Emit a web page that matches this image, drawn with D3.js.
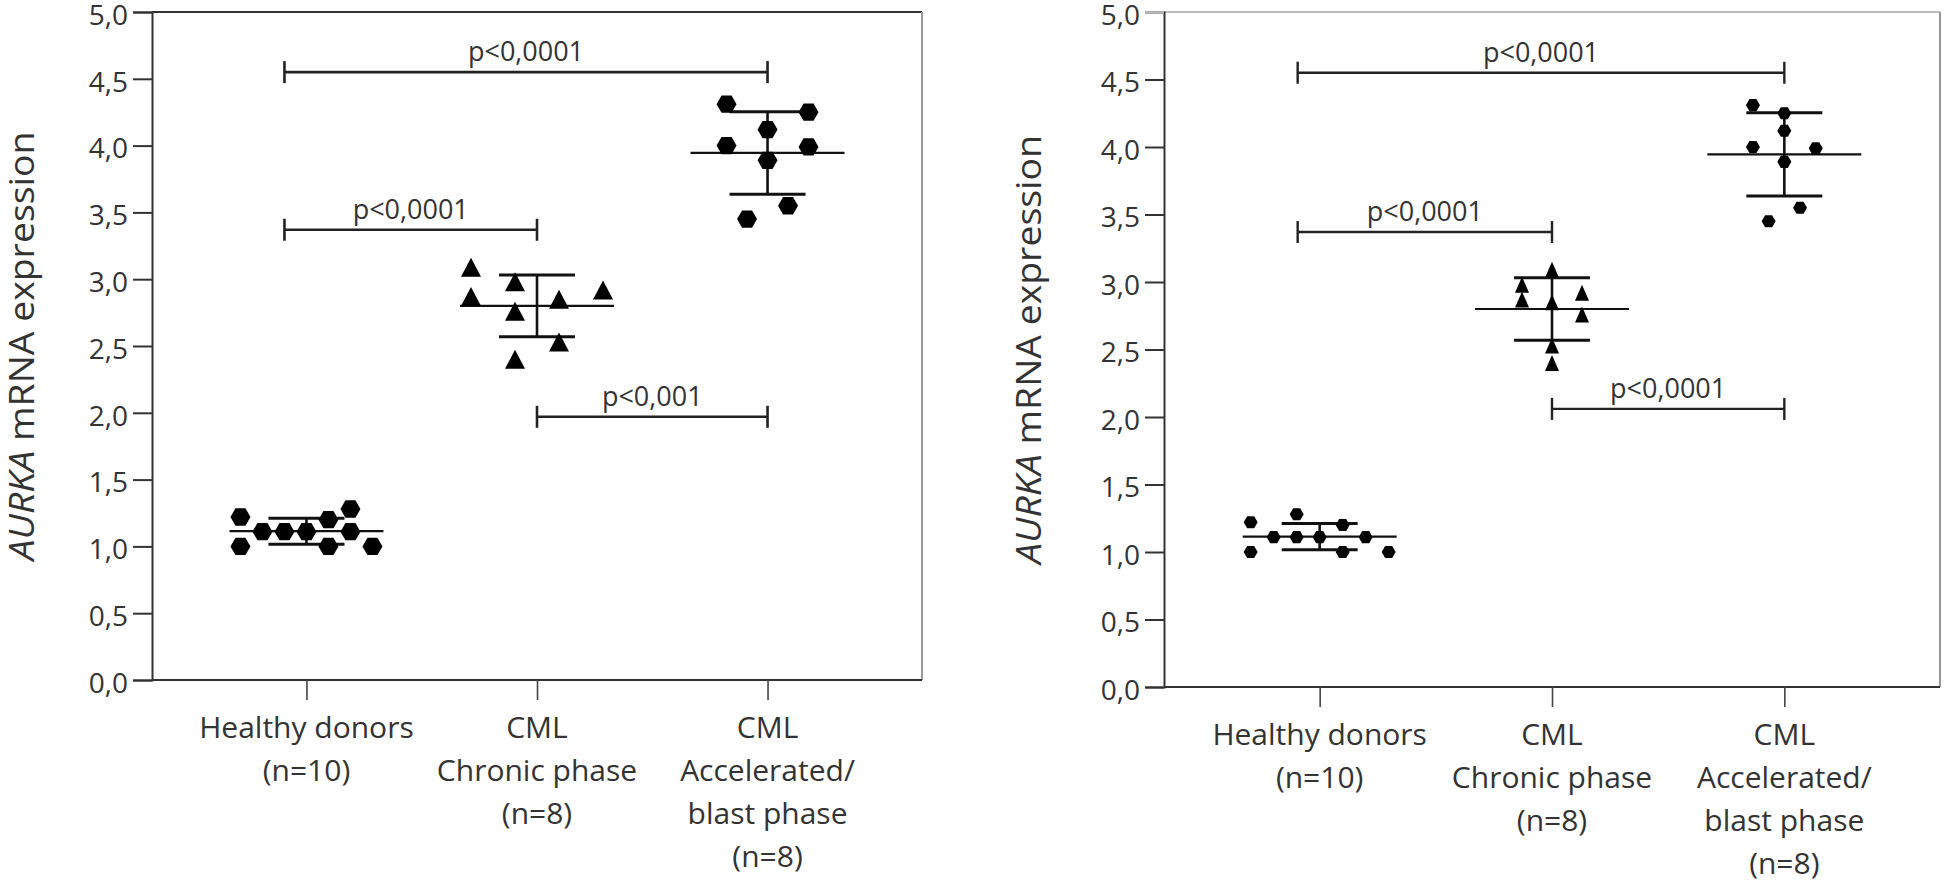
<!DOCTYPE html>
<html><head><meta charset="utf-8">
<script src="https://cdn.jsdelivr.net/npm/d3@7"></script>
<style>body{margin:0;background:#fff} svg{display:block}</style>
</head><body>
<svg id="chart" width="1944" height="886"></svg>
<script>
// ---------------- data ----------------
const categories = ["Healthy donors", "CML Chronic phase", "CML Accelerated/blast phase"];
const categoryLines = [["Healthy donors", "(n=10)"], ["CML", "Chronic phase", "(n=8)"], ["CML", "Accelerated/", "blast phase", "(n=8)"]];
const yTickValues = [0, 0.5, 1, 1.5, 2, 2.5, 3, 3.5, 4, 4.5, 5];
const yTickLabels = ["0,0", "0,5", "1,0", "1,5", "2,0", "2,5", "3,0", "3,5", "4,0", "4,5", "5,0"];
const healthyValues = [1.22, 1.00, 1.11, 1.11, 1.11, 1.20, 1.00, 1.28, 1.11, 1.00];
const chronicValues = [3.09, 2.87, 2.98, 2.76, 2.40, 2.85, 2.53, 2.92];
const blastValues = [4.31, 4.25, 4.12, 4.00, 3.99, 3.89, 3.55, 3.45];
// scatter column index of each point (left panel A / right panel B)
const healthySlotsA = [-3, -3, -2, -1, 0, 1, 1, 2, 2, 3];
const chronicSlotsA = [-3, -3, -1, -1, -1, 1, 1, 3];
const blastSlotsA = [-2, 2, 0, -2, 2, 0, 1, -1];
const healthySlotsB = [-3, -3, -2, -1, 0, 1, 1, -1, 2, 3];
const chronicSlotsB = [0, -1, -1, 1, 0, 0, 0, 1];
const blastSlotsB = [-2, 0, 0, -2, 2, 0, 1, -1];
// significance comparisons
const sigPairs = [[0, 2], [0, 1], [1, 2]];
const sigLevelsA = [4.55, 3.37, 1.97];
const sigLabelsA = ["p<0,0001", "p<0,0001", "p<0,001"];
const sigLevelsB = [4.55, 3.37, 2.06];
const sigLabelsB = ["p<0,0001", "p<0,0001", "p<0,0001"];
const yTitleItalic = "AURKA";
const yTitleRest = " mRNA expression";

// ---------------- layout ----------------
const FONT = "'Open Sans', 'DejaVu Sans', sans-serif";
const TEXT = "#333";
const panels = [
  { x0: 152, x1: 922, yTop: 12, yBottom: 680, titleX: 34, labelY0: 738,
    hexR: 10, triW: 20, triH: 19, spacing: [22, 22, 20.5],
    slots: [healthySlotsA, chronicSlotsA, blastSlotsA],
    sigLevels: sigLevelsA, sigLabels: sigLabelsA, topColor: "#333", sigW: 2.6 },
  { x0: 1164, x1: 1940, yTop: 12, yBottom: 687, titleX: 1041, labelY0: 745,
    hexR: 7, triW: 14, triH: 16, spacing: [23, 30, 15.7],
    slots: [healthySlotsB, chronicSlotsB, blastSlotsB],
    sigLevels: sigLevelsB, sigLabels: sigLabelsB, topColor: "#bbb", sigW: 2.4 }
];
const groupValues = [healthyValues, chronicValues, blastValues];
const shapes = ["hex", "tri", "hex"];

const svg = d3.select("#chart");

function hexPath(r) {
  const pts = d3.range(6).map(i => [r * Math.cos(i * Math.PI / 3), r * Math.sin(i * Math.PI / 3)]);
  return "M" + pts.map(p => p.join(",")).join("L") + "Z";
}
function triPath(w, h) {
  return `M0,${-h / 2}L${w / 2},${h / 2}L${-w / 2},${h / 2}Z`;
}

panels.forEach(P => {
  const g = svg.append("g");
  const x = d3.scalePoint().domain(categories).range([P.x0, P.x1]).padding(0.67);
  const y = d3.scaleLinear().domain([0, 5]).range([P.yBottom, P.yTop]);

  // frame: top and right borders
  g.append("line").attr("x1", P.x0).attr("x2", P.x1).attr("y1", y(5)).attr("y2", y(5))
    .attr("stroke", P.topColor).attr("stroke-width", 2);
  g.append("line").attr("x1", P.x1).attr("x2", P.x1).attr("y1", y(5)).attr("y2", y(0))
    .attr("stroke", "#999").attr("stroke-width", 2);

  // y axis
  const yAxis = d3.axisLeft(y).tickValues(yTickValues).tickSize(19).tickPadding(5)
    .tickFormat((d, i) => yTickLabels[i]);
  const ya = g.append("g").attr("transform", `translate(${P.x0},0)`).call(yAxis);
  ya.select(".domain").attr("stroke", "#333").attr("stroke-width", 2);
  ya.selectAll(".tick line").attr("stroke", "#333").attr("stroke-width", 2);
  ya.selectAll(".tick").filter(d => d === 5).select("line").attr("stroke", P.topColor);
  ya.selectAll(".tick text").attr("fill", TEXT).attr("dy", "0.44em")
    .style("font-family", FONT).style("font-size", "28px");

  // x axis
  const xAxis = d3.axisBottom(x).tickSize(20).tickFormat("");
  const xa = g.append("g").attr("transform", `translate(0,${P.yBottom})`).call(xAxis);
  xa.select(".domain").attr("d", `M${P.x0},0H${P.x1}`).attr("stroke", "#333").attr("stroke-width", 2);
  xa.selectAll(".tick line").attr("stroke", "#444").attr("stroke-width", 1.6);

  // category labels
  categories.forEach((c, ci) => {
    const t = g.append("text").attr("text-anchor", "middle").attr("fill", TEXT)
      .style("font-family", FONT).style("font-size", "30px");
    categoryLines[ci].forEach((ln, li) => {
      t.append("tspan").attr("x", x(c)).attr("y", P.labelY0 + li * 43).text(ln);
    });
  });

  // y title
  const tt = g.append("text")
    .attr("transform", `translate(${P.titleX},${(P.yTop + P.yBottom) / 2}) rotate(-90) scale(1.1,1)`)
    .attr("text-anchor", "middle").attr("fill", TEXT).style("font-family", FONT).style("font-size", "34px");
  tt.append("tspan").style("font-style", "italic").text(yTitleItalic);
  tt.append("tspan").text(yTitleRest);

  // scatter points, mean and SD
  categories.forEach((c, ci) => {
    const vals = groupValues[ci];
    const cx = x(c);
    const mean = d3.mean(vals);
    const sd = d3.deviation(vals);
    const gg = g.append("g");
    gg.append("line").attr("x1", cx - 77).attr("x2", cx + 77).attr("y1", y(mean)).attr("y2", y(mean))
      .attr("stroke", "#111").attr("stroke-width", 2.2);
    gg.append("line").attr("x1", cx).attr("x2", cx).attr("y1", y(mean + sd)).attr("y2", y(mean - sd))
      .attr("stroke", "#111").attr("stroke-width", 2.6);
    [mean + sd, mean - sd].forEach(v => {
      gg.append("line").attr("x1", cx - 38).attr("x2", cx + 38).attr("y1", y(v)).attr("y2", y(v))
        .attr("stroke", "#111").attr("stroke-width", 3);
    });
    const d = shapes[ci] === "hex" ? hexPath(P.hexR) : triPath(P.triW, P.triH);
    gg.selectAll("path.pt").data(vals).join("path").attr("class", "pt")
      .attr("d", d).attr("fill", "#000")
      .attr("transform", (v, i) => `translate(${cx + P.slots[ci][i] * P.spacing[ci]},${y(v)})`);
  });

  // significance bars
  sigPairs.forEach((pr, si) => {
    const xa1 = x(categories[pr[0]]) - (pr[0] === 0 ? 22 : 0);
    const xb1 = x(categories[pr[1]]);
    const yy = y(P.sigLevels[si]);
    const sg = g.append("g").attr("stroke", "#222").attr("stroke-width", P.sigW);
    sg.append("line").attr("x1", xa1).attr("x2", xb1).attr("y1", yy).attr("y2", yy);
    sg.append("line").attr("x1", xa1).attr("x2", xa1).attr("y1", yy - 11).attr("y2", yy + 11);
    sg.append("line").attr("x1", xb1).attr("x2", xb1).attr("y1", yy - 11).attr("y2", yy + 11);
    g.append("text").attr("x", (xa1 + xb1) / 2).attr("y", yy - 11).attr("text-anchor", "middle")
      .attr("fill", "#333").style("font-family", FONT).style("font-size", "27px").text(P.sigLabels[si]);
  });
});
</script>
</body></html>
